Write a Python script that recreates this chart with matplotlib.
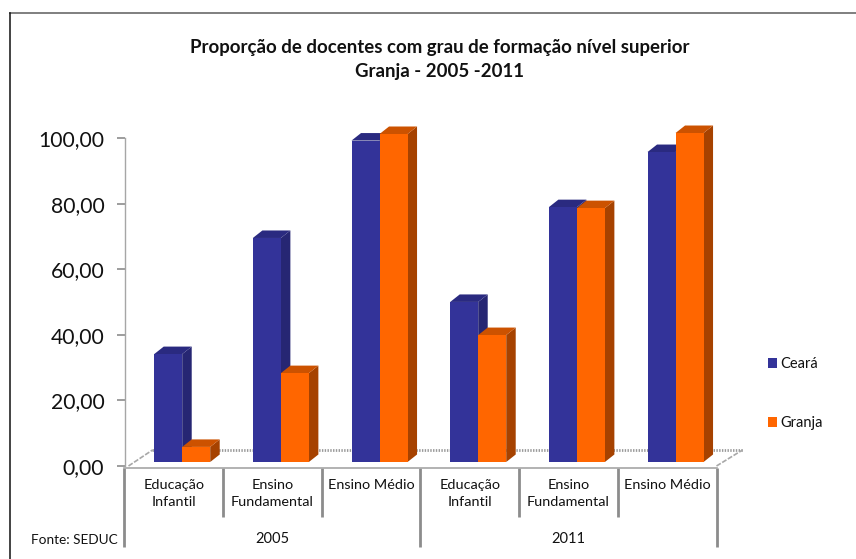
import matplotlib
matplotlib.use("Agg")
import matplotlib.pyplot as plt
from matplotlib.lines import Line2D
from matplotlib.patches import Polygon, Patch

plt.rcParams['font.family'] = ['Lato', 'DejaVu Sans']

categories = ["Educação\nInfantil", "Ensino\nFundamental", "Ensino Médio",
              "Educação\nInfantil", "Ensino\nFundamental", "Ensino Médio"]
years = ["2005", "2011"]
ceara = [32.9, 68.3, 98.0, 48.8, 77.7, 94.5]
granja = [4.6, 27.1, 100.0, 38.7, 77.4, 100.3]
yticks = [0, 20, 40, 60, 80, 100]
title_lines = ["Proporção de docentes com grau de formação nível superior",
               "Granja - 2005 -2011"]
source = "Fonte: SEDUC"

W, H = 856, 559
AX_L, AX_R, AX_TOP, AX_BOT = 124.5, 716.5, 138, 466
fig = plt.figure(figsize=(W / 100, H / 100), dpi=100, facecolor="white")
ax = fig.add_axes([AX_L / W, 1 - AX_BOT / H, (AX_R - AX_L) / W, (AX_BOT - AX_TOP) / H])
ax.set_xlim(-0.5, 5.5)
ax.set_ylim(0, 100)
ax.patch.set_visible(False)

px_x = 6 / (AX_R - AX_L)
px_y = 100 / (AX_BOT - AX_TOP)
bar_w = 28 * px_x
base = 4 * px_y
dx = 9.5 * px_x
dy = 7.5 * px_y
GRP = -0.057


def bar3d(x, value, front, side, top, z):
    left, right = x - bar_w / 2, x + bar_w / 2
    h = base + value
    ax.bar(x, value, bottom=base, width=bar_w, color=front, zorder=z + 0.2, clip_on=False)
    ax.add_patch(Polygon([(right, base), (right + dx, base + dy), (right + dx, h + dy), (right, h)],
                         facecolor=side, edgecolor="none", zorder=z, clip_on=False))
    ax.add_patch(Polygon([(left, h), (left + dx, h + dy), (right + dx, h + dy), (right, h)],
                         facecolor=top, edgecolor="none", zorder=z, clip_on=False))


# floor
floor_y = 16 * px_y
ax.plot([-0.5 + 28 * px_x, 5.5 + 26 * px_x], [floor_y, floor_y], color="#9a9a9a", lw=2,
        ls=(0, (0.5, 0.5)), zorder=1, clip_on=False)
ax.plot([-0.5 + 4 * px_x, -0.5 + 28 * px_x], [0, floor_y], color="#a8a8a8", lw=1.2,
        ls=(0, (3, 1)), zorder=1, clip_on=False)
ax.plot([5.5, 5.5 + 26 * px_x], [0, floor_y], color="#a8a8a8", lw=1.2,
        ls=(0, (3, 1)), zorder=1, clip_on=False)

for i, (c, g) in enumerate(zip(ceara, granja)):
    bar_step = 28 * px_x
    bar3d(i + GRP, c, "#333399", "#262673", "#2A2A80", 3 + i)
    bar3d(i + GRP + bar_step, g, "#FF6600", "#A64200", "#CC5200", 3.5 + i)

for s in ("top", "right"):
    ax.spines[s].set_visible(False)
ax.spines["left"].set_color("#a6a6a6")
ax.spines["left"].set_linewidth(1.0)
ax.spines["bottom"].set_color("#a6a6a6")
ax.spines["bottom"].set_linewidth(1.2)
ax.spines["bottom"].set_position(("outward", 1.2))

ax.set_yticks(yticks)
ax.set_yticklabels([f"{v:.2f}".replace(".", ",") for v in yticks], fontsize=15.2, color="#111111")
ax.tick_params(axis="y", length=6, width=1.2, color="#8c8c8c", pad=8.5)

ax.set_xticks([-0.5, 2.5, 5.5])
ax.set_xticklabels([])
ax.set_xticks([0.5, 1.5, 3.5, 4.5], minor=True)
ax.tick_params(axis="x", which="major", length=57, width=2, color="#8c8c8c")
ax.tick_params(axis="x", which="minor", length=35, width=2, color="#8c8c8c")

for i, cat in enumerate(categories):
    ax.annotate(cat, (i, 0), xytext=(0, -9.5), textcoords="offset points", ha="center", va="top",
                fontsize=10.4, color="#111111", linespacing=1.5, annotation_clip=False)
for x, yr in zip((1, 4), years):
    ax.annotate(yr, (x, 0), xytext=(0, -47.5), textcoords="offset points", ha="center", va="top",
                fontsize=10.5, color="#111111", annotation_clip=False)

for y, line in zip((47, 72), title_lines):
    fig.text(440 / W, 1 - y / H, line, ha="center", va="center", fontsize=13.4, fontweight="bold", color="#111111")
fig.text(31 / W, 1 - 540 / H, source, ha="left", va="center", fontsize=9.8, color="#111111")

handles = [Patch(facecolor="#333399", label="Ceará"), Patch(facecolor="#FF6600", label="Granja")]
fig.legend(handles=handles, loc="center left", bbox_to_anchor=(768 / W, 1 - 393.5 / H), frameon=False,
           fontsize=10.5, handlelength=0.62, handleheight=0.62, handletextpad=0.25,
           labelspacing=3.09, borderpad=0, borderaxespad=0, labelcolor="#111111")

fig.add_artist(Line2D([9.5 / W, W / W], [1 - 13 / H, 1 - 13 / H], color="#7f7f7f", lw=1.4))
fig.add_artist(Line2D([9.5 / W, 9.5 / W], [1 - 13 / H, 0], color="#111111", lw=1.1))

fig.savefig("out.png", dpi=100)
